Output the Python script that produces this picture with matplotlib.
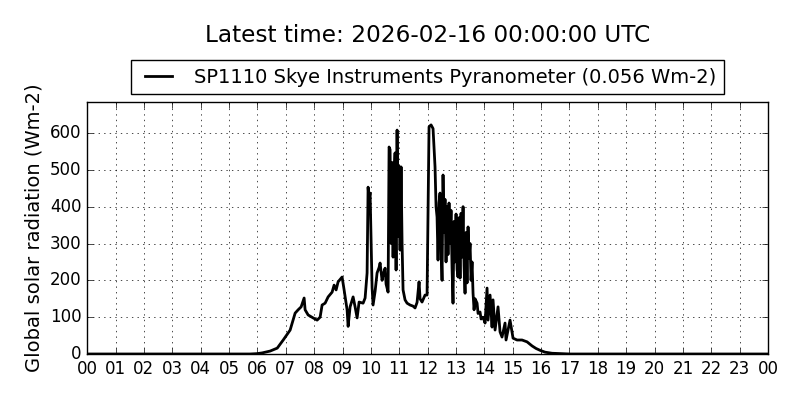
import numpy as np
import matplotlib
matplotlib.use("Agg")
import matplotlib.pyplot as plt

# time of day in hours, radiation in Wm-2
hours = [0.0, 5.74, 5.99, 6.17, 6.45, 6.70, 6.91,
         7.154, 7.330, 7.436, 7.542, 7.647, 7.682, 7.788, 7.964, 8.105, 8.211,
         8.281, 8.387, 8.493, 8.634, 8.704, 8.775, 8.845, 8.986, 9.057, 9.162,
         9.198, 9.268, 9.374, 9.444, 9.515, 9.585, 9.726, 9.797, 9.867, 9.902,
         9.937, 9.973, 10.008, 10.043, 10.078, 10.149, 10.219, 10.290, 10.325,
         10.395, 10.431, 10.501, 10.536, 10.607, 10.642, 10.677, 10.712, 10.748,
         10.783, 10.818, 10.853, 10.889, 10.924, 10.959, 10.994, 11.029, 11.065,
         11.100, 11.135, 11.205, 11.276, 11.382, 11.487, 11.558, 11.628, 11.699,
         11.734, 11.804, 11.910, 11.981, 12.016, 12.051, 12.122, 12.192, 12.262,
         12.298, 12.333, 12.368, 12.403, 12.438, 12.474, 12.509, 12.544, 12.579,
         12.614, 12.650, 12.685, 12.720, 12.755, 12.791, 12.826, 12.861, 12.896,
         12.931, 12.967, 13.003, 13.038, 13.074, 13.109, 13.144, 13.179, 13.215,
         13.250, 13.285, 13.320, 13.356, 13.391, 13.426, 13.461, 13.497, 13.532,
         13.567, 13.602, 13.638, 13.673, 13.744, 13.779, 13.849, 13.885, 13.955,
         14.026, 14.096, 14.131, 14.202, 14.272, 14.307, 14.378, 14.483, 14.554,
         14.624, 14.730, 14.765, 14.906, 15.012, 15.153, 15.329, 15.506, 15.682,
         15.823, 15.964, 16.140, 16.387, 16.669, 17.021, 24.0]
radiation = [0, 0, 1, 3, 8, 16, 38,
             65, 111, 120, 128, 152, 120, 106, 98, 92, 100,
             133, 138, 155, 168, 187, 174, 196, 209, 174, 120,
             75, 128, 155, 128, 98, 141, 138, 152, 220, 453,
             420, 437, 310, 180, 133, 170, 220, 235, 247,
             200, 215, 233, 190, 168, 562, 555, 300, 520,
             263, 480, 546, 228, 608, 320, 510, 282, 508,
             300, 174, 147, 138, 133, 130, 125, 140, 196,
             150, 141, 160, 160, 400, 617, 622, 612, 508,
             400, 372, 255, 410, 437, 300, 200, 486, 330,
             420, 250, 400, 270, 410, 300, 390, 236, 138,
             360, 250, 380, 230, 209, 370, 206, 382, 263,
             400, 240, 165, 330, 193, 345, 260, 300, 200,
             250, 165, 120, 150, 138, 110, 114, 95, 100,
             84, 179, 92, 160, 73, 147, 65, 128, 60,
             46, 84, 38, 92, 43, 38, 38, 33, 22,
             15, 10, 5, 2, 1, 0, 0]
tick_hours = list(range(25))
tick_labels = ["%02d" % (h % 24) for h in tick_hours]

plt.style.use('classic')
fig = plt.figure(figsize=(8, 4), dpi=100)
fig.set_facecolor('white')
ax = fig.add_axes([0.109, 0.115, 0.851, 0.63])

ax.plot(hours, radiation, '-', color='black', linewidth=2,
        label='SP1110 Skye Instruments Pyranometer (0.056 Wm-2)')

ax.set_xlim(0, 24)
ax.set_ylim(0, max(radiation) * 1.1)
ax.set_xticks(tick_hours)
ax.set_xticklabels(tick_labels)
ax.set_yticks(range(0, 700, 100))
ax.tick_params(labelsize=12)
ax.grid(True)
ax.set_ylabel('Global solar radiation (Wm-2)', fontsize=14)

ax.legend(loc='lower center', bbox_to_anchor=(0.5, 1.03), fontsize=14,
          handlelength=2, borderaxespad=0)
fig.text(0.534, 0.9125, 'Latest time: 2026-02-16 00:00:00 UTC',
         ha='center', va='center', fontsize=16.7)

fig.savefig('out.png', dpi=100, facecolor='white')
